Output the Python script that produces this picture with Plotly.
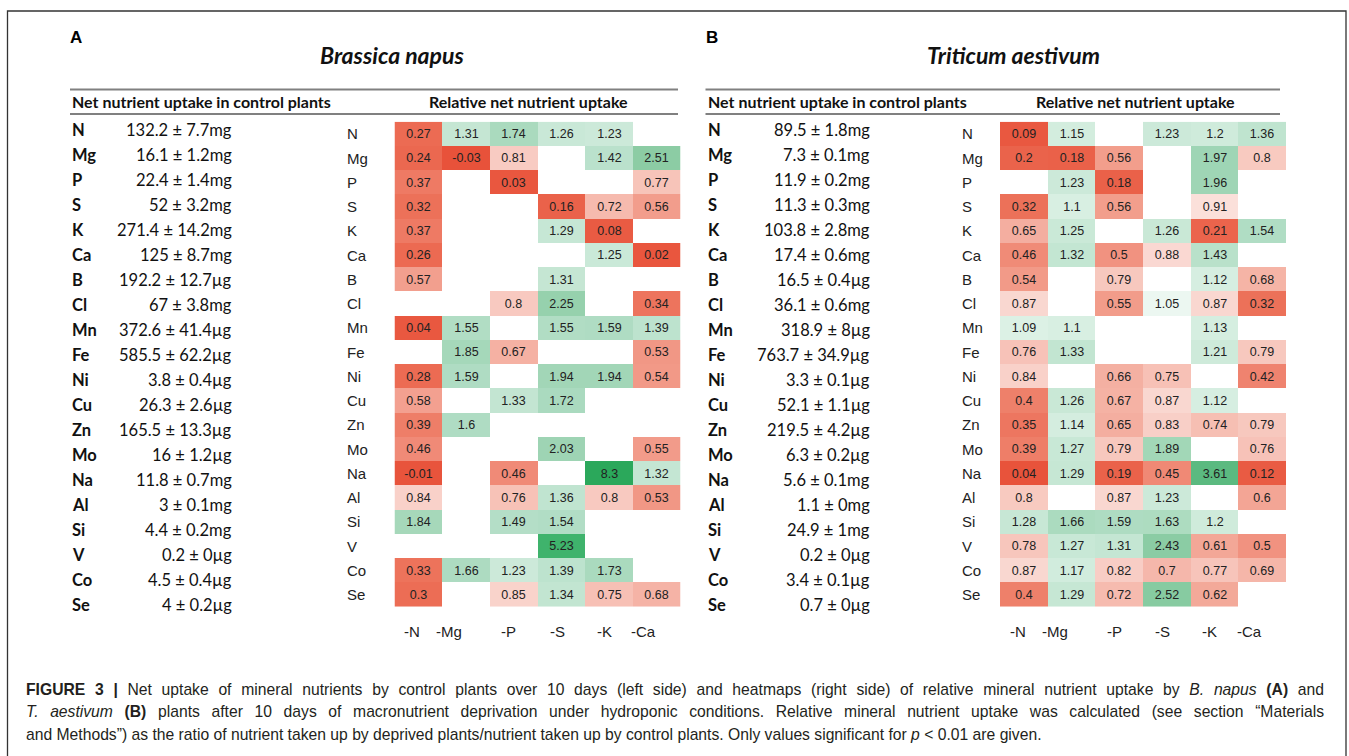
import plotly.graph_objects as go

W, H = 1349, 756

# ---------------- data ----------------
elements = ["N", "Mg", "P", "S", "K", "Ca", "B", "Cl", "Mn", "Fe", "Ni", "Cu",
            "Zn", "Mo", "Na", "Al", "Si", "V", "Co", "Se"]
treatments = ["-N", "-Mg", "-P", "-S", "-K", "-Ca"]

# Brassica napus: control uptake (mean, sd, unit)
bn_mean = [132.2, 16.1, 22.4, 52, 271.4, 125, 192.2, 67, 372.6, 585.5, 3.8, 26.3,
           165.5, 16, 11.8, 3, 4.4, 0.2, 4.5, 4]
bn_sd = [7.7, 1.2, 1.4, 3.2, 14.2, 8.7, 12.7, 3.8, 41.4, 62.2, 0.4, 2.6,
         13.3, 1.2, 0.7, 0.1, 0.2, 0, 0.4, 0.2]
bn_unit = ["mg", "mg", "mg", "mg", "mg", "mg", "µg", "mg", "µg", "µg", "µg", "µg",
           "µg", "µg", "mg", "mg", "mg", "µg", "µg", "µg"]

# Triticum aestivum: control uptake
ta_mean = [89.5, 7.3, 11.9, 11.3, 103.8, 17.4, 16.5, 36.1, 318.9, 763.7, 3.3, 52.1,
           219.5, 6.3, 5.6, 1.1, 24.9, 0.2, 3.4, 0.7]
ta_sd = [1.8, 0.1, 0.2, 0.3, 2.8, 0.6, 0.4, 0.6, 8, 34.9, 0.1, 1.1,
         4.2, 0.2, 0.1, 0, 1, 0, 0.1, 0]
ta_unit = ["mg", "mg", "mg", "mg", "mg", "mg", "µg", "mg", "µg", "µg", "µg", "µg",
           "µg", "µg", "mg", "mg", "mg", "µg", "µg", "µg"]

# relative uptake (rows = elements, columns = treatments); None = not significant
bn_rel = [
    [0.27, 1.31, 1.74, 1.26, 1.23, None],
    [0.24, -0.03, 0.81, None, 1.42, 2.51],
    [0.37, None, 0.03, None, None, 0.77],
    [0.32, None, None, 0.16, 0.72, 0.56],
    [0.37, None, None, 1.29, 0.08, None],
    [0.26, None, None, None, 1.25, 0.02],
    [0.57, None, None, 1.31, None, None],
    [None, None, 0.8, 2.25, None, 0.34],
    [0.04, 1.55, None, 1.55, 1.59, 1.39],
    [None, 1.85, 0.67, None, None, 0.53],
    [0.28, 1.59, None, 1.94, 1.94, 0.54],
    [0.58, None, 1.33, 1.72, None, None],
    [0.39, 1.6, None, None, None, None],
    [0.46, None, None, 2.03, None, 0.55],
    [-0.01, None, 0.46, None, 8.3, 1.32],
    [0.84, None, 0.76, 1.36, 0.8, 0.53],
    [1.84, None, 1.49, 1.54, None, None],
    [None, None, None, 5.23, None, None],
    [0.33, 1.66, 1.23, 1.39, 1.73, None],
    [0.3, None, 0.85, 1.34, 0.75, 0.68],
]
ta_rel = [
    [0.09, 1.15, None, 1.23, 1.2, 1.36],
    [0.2, 0.18, 0.56, None, 1.97, 0.8],
    [None, 1.23, 0.18, None, 1.96, None],
    [0.32, 1.1, 0.56, None, 0.91, None],
    [0.65, 1.25, None, 1.26, 0.21, 1.54],
    [0.46, 1.32, 0.5, 0.88, 1.43, None],
    [0.54, None, 0.79, None, 1.12, 0.68],
    [0.87, None, 0.55, 1.05, 0.87, 0.32],
    [1.09, 1.1, None, None, 1.13, None],
    [0.76, 1.33, None, None, 1.21, 0.79],
    [0.84, None, 0.66, 0.75, None, 0.42],
    [0.4, 1.26, 0.67, 0.87, 1.12, None],
    [0.35, 1.14, 0.65, 0.83, 0.74, 0.79],
    [0.39, 1.27, 0.79, 1.89, None, 0.76],
    [0.04, 1.29, 0.19, 0.45, 3.61, 0.12],
    [0.8, None, 0.87, 1.23, None, 0.6],
    [1.28, 1.66, 1.59, 1.63, 1.2, None],
    [0.78, 1.27, 1.31, 2.43, 0.61, 0.5],
    [0.87, 1.17, 0.82, 0.7, 0.77, 0.69],
    [0.4, 1.29, 0.72, 2.52, 0.62, None],
]

# ---------------- helpers ----------------
def px(x):
    return x / W


def py(y):
    return 1 - y / H


def make_scale(anchors):
    lo, hi = anchors[0][0], anchors[-1][0]
    return [[(v - lo) / (hi - lo), c] for v, c in anchors], lo, hi


scale_A = [(-0.03, "#E8523A"), (0.3, "#EC6D55"), (0.6, "#F3A494"), (0.9, "#FADCD6"),
           (1.0, "#FFFFFF"), (1.1, "#D8EFE2"), (1.5, "#B3DEC6"), (2.5, "#8CCCA4"),
           (5.23, "#3FB36C"), (8.3, "#2BA85B")]
scale_B = [(0.04, "#E8533B"), (0.3, "#EC6D55"), (0.6, "#F3A595"), (0.9, "#FADCD6"),
           (1.0, "#FFFFFF"), (1.1, "#D8EFE2"), (1.5, "#B2DEC5"), (2.5, "#88CBA2"),
           (3.61, "#5BBA80")]

# small horizontal nudges of the column captions (as in the printed figure)
col_label_shift = [-6, -17, -5, -4, -5, -13]


def fmt(v):
    return "" if v is None else f"{v:g}"


TABLE_FONT = "Lato, Open Sans, sans-serif"
ARIAL = "Liberation Sans, Arial, sans-serif"

fig = go.Figure()

panels = [
    dict(rel=bn_rel, scale=scale_A, xa="x", ya="y", dom=(394.5, 680.5),
         mean=bn_mean, sd=bn_sd, unit=bn_unit, sym_x=70, val_x=234, lab_x=345,
         letter="A", letter_x=68, title="Brassica napus", title_x=392,
         rel_x=528, line=(70, 678), hdr_x=70),
    dict(rel=ta_rel, scale=scale_B, xa="x2", ya="y2", dom=(1000, 1286),
         mean=ta_mean, sd=ta_sd, unit=ta_unit, sym_x=705.5, val_x=872, lab_x=960,
         letter="B", letter_x=704, title="Triticum aestivum", title_x=1013,
         rel_x=1135, line=(705.5, 1280), hdr_x=705.5),
]

HM_TOP, HM_BOT = 121.7, 606.7
annotations = []
shapes = []

for p in panels:
    cs, lo, hi = make_scale(p["scale"])
    text = [[fmt(v) for v in row] for row in p["rel"]]
    fig.add_trace(go.Heatmap(
        z=p["rel"], x=treatments, y=elements, text=text, texttemplate="%{text}",
        textfont=dict(family=ARIAL, size=12.5, color="#222222"),
        colorscale=cs, zmin=lo, zmax=hi, showscale=False, hoverinfo="skip",
        xaxis=p["xa"], yaxis=p["ya"], xgap=0, ygap=0,
    ))
    axname = "xaxis" if p["xa"] == "x" else "xaxis2"
    ayname = "yaxis" if p["ya"] == "y" else "yaxis2"
    fig.layout[axname] = dict(
        domain=[px(p["dom"][0]), px(p["dom"][1])], anchor=p["ya"],
        showgrid=False, zeroline=False, showline=False, ticks="",
        showticklabels=False, fixedrange=True,
    )
    fig.layout[ayname] = dict(
        domain=[py(HM_BOT), py(HM_TOP)], anchor=p["xa"], autorange="reversed",
        showgrid=False, zeroline=False, showline=False, ticks="",
        showticklabels=False, fixedrange=True,
    )
    # column captions under the heatmap
    for t, dx in zip(treatments, col_label_shift):
        annotations.append(dict(
            x=t, xref=p["xa"], y=py(631), yref="paper", text=t, xshift=dx,
            showarrow=False, xanchor="center", yanchor="middle",
            font=dict(family=ARIAL, size=15, color="#222222")))
    # row labels (left aligned)
    for el in elements:
        annotations.append(dict(
            x=px(p["lab_x"]), xref="paper", y=el, yref=p["ya"], text=el,
            showarrow=False, xanchor="left", yanchor="middle",
            font=dict(family=ARIAL, size=15, color="#222222")))
    # control-plant table
    for i, el in enumerate(elements):
        yy = 130 + 25 * i
        annotations.append(dict(
            x=px(p["sym_x"]), y=py(yy), xref="paper", yref="paper",
            text=f"<b>{el}</b>", showarrow=False, xanchor="left", yanchor="middle",
            font=dict(family=TABLE_FONT, size=16.5, color="#111111")))
        annotations.append(dict(
            x=px(p["val_x"]), y=py(yy), xref="paper", yref="paper",
            text=f"{p['mean'][i]:g} ± {p['sd'][i]:g}{p['unit'][i]}",
            showarrow=False, xanchor="right", yanchor="middle",
            font=dict(family=TABLE_FONT, size=16.5, color="#111111")))
    # panel letter + title
    annotations.append(dict(
        x=px(p["letter_x"]), y=py(37), xref="paper", yref="paper",
        text=f"<b>{p['letter']}</b>", showarrow=False, xanchor="left", yanchor="middle",
        font=dict(family=ARIAL, size=17, color="#000000")))
    annotations.append(dict(
        x=px(p["title_x"]), y=py(55), xref="paper", yref="paper",
        text=f"<b><i>{p['title']}</i></b>", showarrow=False, xanchor="center",
        yanchor="middle", font=dict(family=TABLE_FONT, size=23, color="#111111")))
    # headers
    annotations.append(dict(
        x=px(p["hdr_x"]), y=py(101.5), xref="paper", yref="paper",
        text="<b>Net nutrient uptake in control plants</b>", showarrow=False,
        xanchor="left", yanchor="middle",
        font=dict(family=TABLE_FONT, size=16, color="#111111")))
    annotations.append(dict(
        x=px(p["rel_x"]), y=py(101.5), xref="paper", yref="paper",
        text="<b>Relative net nutrient uptake</b>", showarrow=False,
        xanchor="center", yanchor="middle",
        font=dict(family=TABLE_FONT, size=16, color="#111111")))
    for ly in (89.5, 114):
        shapes.append(dict(type="line", xref="paper", yref="paper",
                           x0=px(p["line"][0]), x1=px(p["line"][1]), y0=py(ly), y1=py(ly),
                           line=dict(color="#808080", width=2)))

# outer frame
shapes.append(dict(type="rect", xref="paper", yref="paper",
                   x0=px(7.5), x1=px(1346), y0=py(11), y1=py(770),
                   line=dict(color="#333333", width=1.3), fillcolor="rgba(0,0,0,0)"))

caption_lines = [
    "<b>FIGURE 3 |</b> Net uptake of mineral nutrients by control plants over 10 days (left side) and heatmaps (right side) of relative mineral nutrient uptake by <i>B. napus</i> <b>(A)</b> and",
    "<i>T. aestivum</i> <b>(B)</b> plants after 10 days of macronutrient deprivation under hydroponic conditions. Relative mineral nutrient uptake was calculated (see section “Materials",
    "and Methods”) as the ratio of nutrient taken up by deprived plants/nutrient taken up by control plants. Only values significant for <i>p</i> &lt; 0.01 are given.",
]
for i, line in enumerate(caption_lines):
    annotations.append(dict(
        x=px(24), y=py(689 + 22.5 * i), xref="paper", yref="paper", text=line,
        showarrow=False, xanchor="left", yanchor="middle", align="left",
        font=dict(family=ARIAL, size=15.7, color="#231F20")))

fig.update_layout(
    width=W, height=H, autosize=False,
    margin=dict(l=0, r=0, t=0, b=0, pad=0),
    paper_bgcolor="white", plot_bgcolor="white",
    annotations=annotations, shapes=shapes, showlegend=False,
)

# justify the first two caption lines (the printed caption is justified)
justify_js = """
document.body.style.margin='0';document.body.style.overflow='hidden';
function justifyCaption(){
  var target = 1298;
  document.querySelectorAll('.annotation-text').forEach(function(t){
    var s = t.textContent;
    if (s.indexOf('FIGURE 3') === 0 || s.indexOf('T. aestivum') === 0) {
      t.style.wordSpacing = '0px';
      var len = t.getComputedTextLength();
      var nsp = (s.match(/ /g) || []).length;
      if (nsp > 0 && len < target) {
        t.style.wordSpacing = ((target - len) / nsp) + 'px';
      }
    }
  });
}
justifyCaption();
setTimeout(justifyCaption, 50);
setTimeout(justifyCaption, 300);
"""

fig.write_html("out.html", config={"displayModeBar": False}, post_script=justify_js)
